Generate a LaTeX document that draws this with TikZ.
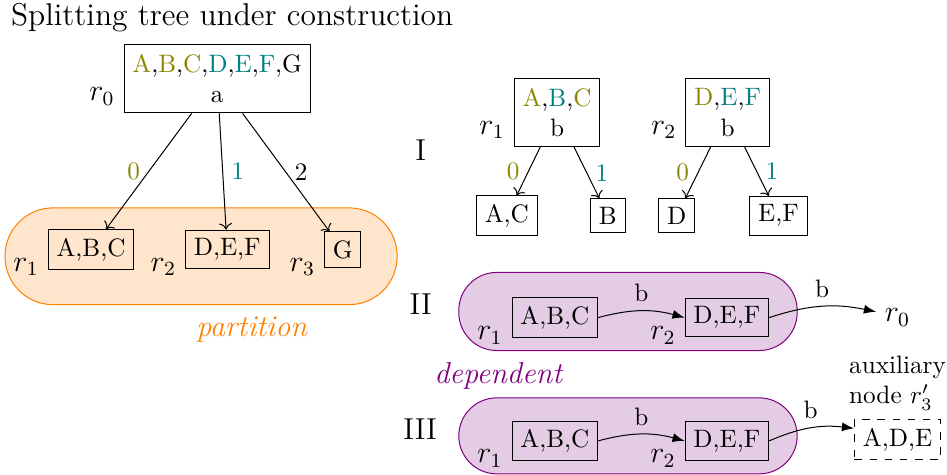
\documentclass[tikz,border=0pt]{standalone}
\usetikzlibrary{arrows.meta,positioning}
\tikzset{
  set box/.style={draw,inner sep=3.33pt},
  split box/.style={draw,align=center,minimum height=0.95cm},
  node name/.style={anchor=north east,font=\large},
  step label/.style={font=\large},
  tree edge/.style={->},
  dep edge/.style={-{Latex},bend left=15},
  partition region/.style={draw=orange,fill=orange!20,rounded corners=0.67cm},
  dependent region/.style={draw=violet,fill=violet!20,rounded corners=0.53cm}
}

\begin{document}
\begin{tikzpicture}[x=1cm,y=1cm]
  \path[use as bounding box] (0,0) rectangle (13.21,6.62);

  \node[anchor=west,font=\fontsize{12.5}{15}\selectfont] (title) at (0.03,6.37) {Splitting tree under construction};

  % Root split on a and the partition it gives.
  \draw[partition region] (0.07,2.37) rectangle (5.54,3.72);
  \node[split box,minimum width=2.52cm,label={[node name]west:$r_0$}] (root) at (3.03,5.52)
    {\textcolor{olive}{A},\textcolor{olive}{B},\textcolor{olive}{C},\textcolor{teal}{D},\textcolor{teal}{E},\textcolor{teal}{F},G\\a};
  \node[set box,label={[node name]west:$r_1$}] (pabc) at (1.27,3.14) {A,B,C};
  \node[set box,label={[node name]west:$r_2$}] (pdef) at (3.17,3.14) {D,E,F};
  \node[set box,label={[node name]west:$r_3$}] (pg) at (4.78,3.14) {G};
  \draw[tree edge] (root) -- node[midway,left,text=olive] {0} (pabc);
  \draw[tree edge] (root) -- node[midway,right,text=teal] {1} (pdef);
  \draw[tree edge] (root) -- node[midway,right] {2} (pg);
  \node[text=orange,font=\large\itshape] (partlabel) at (3.51,2.02) {partition};

  % I: splitting both blocks on b.
  \node[step label] (stepI) at (5.87,4.53) {I};
  \node[split box,label={[node name]west:$r_1$}] (tabc) at (7.77,5.05)
    {\textcolor{olive}{A},\textcolor{teal}{B},\textcolor{olive}{C}\\b};
  \node[split box,label={[node name]west:$r_2$}] (tdef) at (10.15,5.05)
    {\textcolor{olive}{D},\textcolor{teal}{E},\textcolor{teal}{F}\\b};
  \node[set box] (lac) at (7.07,3.61) {A,C};
  \node[set box] (lb) at (8.48,3.61) {B};
  \node[set box] (ld) at (9.44,3.61) {D};
  \node[set box] (lef) at (10.86,3.61) {E,F};
  \draw[tree edge] (tabc) -- node[midway,left,text=olive] {0} (lac);
  \draw[tree edge] (tabc) -- node[midway,right,text=teal] {1} (lb);
  \draw[tree edge] (tdef) -- node[midway,left,text=olive] {0} (ld);
  \draw[tree edge] (tdef) -- node[midway,right,text=teal] {1} (lef);

  % II: dependent blocks pointing back to the root.
  \draw[dependent region] (6.40,1.73) rectangle (11.12,2.82);
  \node[step label] (stepII) at (5.87,2.38) {II};
  \node[set box,label={[node name]west:$r_1$}] (dabc) at (7.74,2.19) {A,B,C};
  \node[set box,label={[node name]west:$r_2$}] (ddef) at (10.14,2.19) {D,E,F};
  \node[step label] (rootref) at (12.52,2.19) {$r_0$};
  \draw[dep edge] (dabc.east) to node[above] {b} (ddef.west);
  \draw[dep edge] (ddef.east) to node[above] {b} (rootref);

  \node[text=violet,font=\large\itshape] (deplabel) at (6.95,1.37) {dependent};

  % III: same blocks, now with an auxiliary node.
  \draw[dependent region] (6.40,0.01) rectangle (11.12,1.07);
  \node[step label] (stepIII) at (5.86,0.63) {III};
  \node[set box,label={[node name]west:$r_1$}] (eabc) at (7.74,0.47) {A,B,C};
  \node[set box,label={[node name]west:$r_2$}] (edef) at (10.14,0.47) {D,E,F};
  \node[set box,dashed,label={[align=left]above:auxiliary\\node $r_3'$}] (aux) at (12.52,0.49) {A,D,E};
  \draw[dep edge] (eabc.east) to node[above] {b} (edef.west);
  \draw[dep edge] (edef.east) to node[above] {b} (aux);
\end{tikzpicture}
\end{document}
